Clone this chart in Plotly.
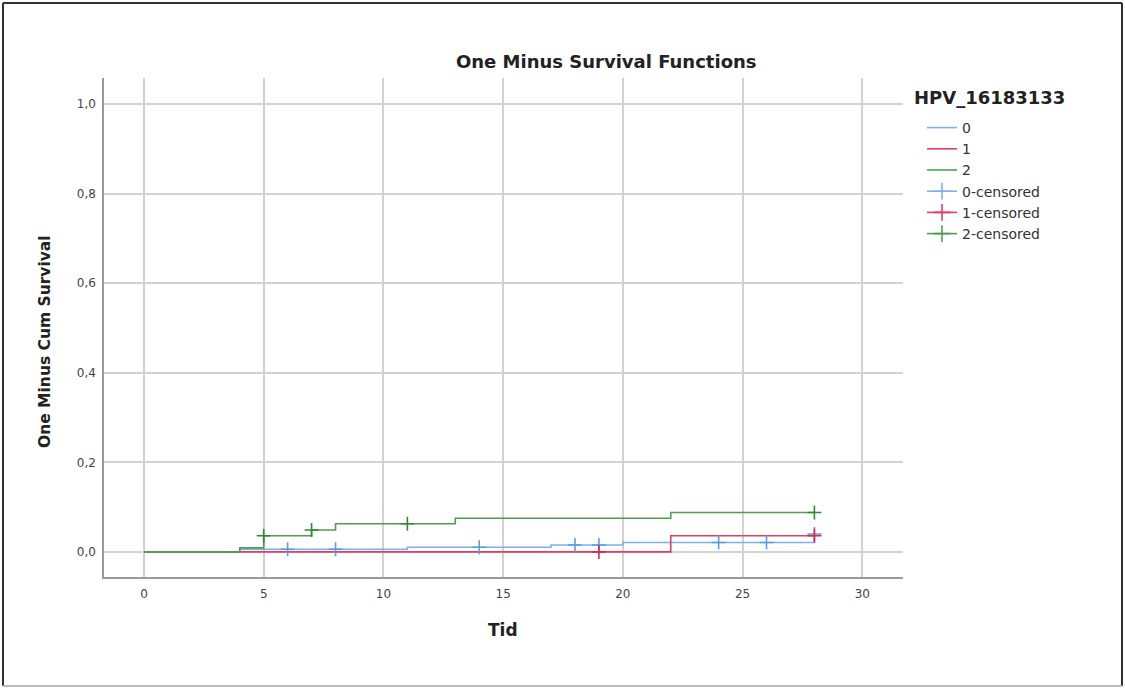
import plotly.graph_objects as go

# ---- data ----
x_tick_vals = [0, 5, 10, 15, 20, 25, 30]
x_tick_text = ["0", "5", "10", "15", "20", "25", "30"]
y_tick_vals = [0.0, 0.2, 0.4, 0.6, 0.8, 1.0]
y_tick_text = ["0,0", "0,2", "0,4", "0,6", "0,8", "1,0"]

g0_t = [0, 4, 11, 17, 20, 28]
g0_v = [0.0, 0.006, 0.0105, 0.0156, 0.021, 0.04]
g0_cens_t = [6, 8, 14, 18, 19, 24, 26, 28]
g0_cens_v = [0.006, 0.006, 0.0105, 0.0156, 0.0156, 0.021, 0.021, 0.04]

g1_t = [0, 22, 28]
g1_v = [0.0, 0.036, 0.036]
g1_cens_t = [19, 28]
g1_cens_v = [0.0, 0.036]

g2_t = [0, 4, 5, 7, 8, 13, 22, 28]
g2_v = [0.0, 0.009, 0.036, 0.049, 0.063, 0.075, 0.088, 0.088]
g2_cens_t = [5, 7, 11, 28]
g2_cens_v = [0.036, 0.049, 0.063, 0.088]

groups = ["0", "1", "2"]
line_colors = ["#7db1ea", "#e33d63", "#4f9f4f"]
mark_colors = ["#5b9be3", "#d9284f", "#2f8a2f"]

FONT = "DejaVu Sans, Verdana, sans-serif"

fig = go.Figure()

series = [(g0_t, g0_v), (g1_t, g1_v), (g2_t, g2_v)]
cens = [(g0_cens_t, g0_cens_v), (g1_cens_t, g1_cens_v), (g2_cens_t, g2_cens_v)]

for name, (t, v), col in zip(groups, series, line_colors):
    fig.add_trace(go.Scatter(x=t, y=v, mode="lines", name=name,
                             line=dict(color=col, width=1.6, shape="hv"),
                             showlegend=True))

for name, (t, v), col, mcol in zip(groups, cens, line_colors, mark_colors):
    fig.add_trace(go.Scatter(x=t, y=v, mode="markers", name=name + "-censored",
                             marker=dict(symbol="cross-thin", size=10,
                                         line=dict(color=mcol, width=1.6)),
                             showlegend=False))
    # legend entry (line with cross, as in the reference)
    fig.add_trace(go.Scatter(x=[None], y=[None], mode="lines+markers",
                             name=name + "-censored",
                             line=dict(color=col, width=1.6),
                             marker=dict(symbol="cross-thin", size=12,
                                         line=dict(color=col, width=1.6)),
                             showlegend=True))

L, R, T, B = 104, 903, 78, 577
W, H = 1125, 688
pw, ph = R - L, B - T

def px_x(px):
    return (px - L) / pw

def px_y(py):
    return (B - py) / ph

fig.update_layout(
    width=W, height=H,
    margin=dict(l=L, r=W - R, t=T, b=H - B),
    paper_bgcolor="white", plot_bgcolor="white",
    font=dict(family=FONT, color="#333333"),
    showlegend=True,
    legend=dict(x=px_x(922), y=px_y(112), xanchor="left", yanchor="top",
                font=dict(size=14, family=FONT, color="#333333"),
                bgcolor="rgba(0,0,0,0)", tracegroupgap=0,
                itemwidth=30),
)

fig.update_xaxes(range=[-1.67, 31.7], tickvals=x_tick_vals, ticktext=x_tick_text,
                 showgrid=True, gridcolor="#d2d2d2", gridwidth=1.5,
                 zeroline=False, showline=True, linecolor="#9a9a9a", linewidth=1.5,
                 ticks="", tickfont=dict(size=12, family=FONT, color="#444444"),
                 ticklabelstandoff=5)
fig.update_yaxes(range=[-0.056, 1.058], tickvals=y_tick_vals, ticktext=y_tick_text,
                 showgrid=True, gridcolor="#d2d2d2", gridwidth=1.5,
                 zeroline=False, showline=True, linecolor="#9a9a9a", linewidth=1.5,
                 ticks="", tickfont=dict(size=12, family=FONT, color="#444444"),
                 ticklabelstandoff=4)

anns = [
    dict(text="<b>One Minus Survival Functions</b>", x=px_x(606), y=px_y(62),
         font=dict(size=18, family=FONT, color="#222222")),
    dict(text="<b>Tid</b>", x=px_x(503), y=px_y(630),
         font=dict(size=17, family=FONT, color="#222222")),
    dict(text="<b>One Minus Cum Survival</b>", x=px_x(45), y=px_y(342), textangle=-90,
         font=dict(size=15.5, family=FONT, color="#222222")),
]
for a in anns:
    fig.add_annotation(xref="paper", yref="paper", showarrow=False,
                       xanchor="center", yanchor="middle", **a)
fig.add_annotation(text="<b>HPV_16183133</b>", xref="paper", yref="paper",
                   x=px_x(912), y=px_y(97), xanchor="left", yanchor="middle",
                   showarrow=False, font=dict(size=18, family=FONT, color="#222222"))

# outer frame: dark top/left/right edges, light bottom edge
dark = dict(color="#333333", width=2)
for x0, y0, x1, y1 in [(3, 3, 1122, 3), (3, 3, 3, 686), (1122, 3, 1122, 686)]:
    fig.add_shape(type="line", xref="paper", yref="paper",
                  x0=px_x(x0), y0=px_y(y0), x1=px_x(x1), y1=px_y(y1),
                  line=dark, layer="below")
fig.add_shape(type="line", xref="paper", yref="paper",
              x0=px_x(3), y0=px_y(686), x1=px_x(1122), y1=px_y(686),
              line=dict(color="#bbbbbb", width=2), layer="below")

fig.write_html("out.html", config={"displayModeBar": False},
               post_script="document.body.style.margin='0px';")
